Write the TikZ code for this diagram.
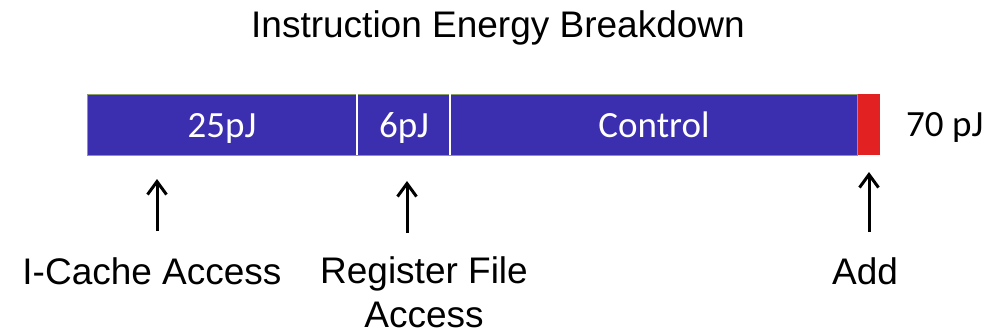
\documentclass[tikz,border=0pt]{standalone}
\usepackage{fontspec}
\setmainfont{Liberation Sans}
\newfontfamily\calib{Carlito}
\usetikzlibrary{arrows.meta}
\definecolor{barblue}{RGB}{59,47,175}
\definecolor{barred}{RGB}{226,34,34}
\definecolor{barrim}{RGB}{140,160,100}
\begin{document}
\begin{tikzpicture}[x=1pt,y=-1pt,
  seg/.style={draw=barrim,line width=1pt,fill=barblue},
  divider/.style={white,line width=2pt},
  bartext/.style={text=white,font=\calib\fontsize{37}{44}\selectfont,anchor=base,inner sep=0pt},
  lbl/.style={font=\fontsize{37}{44}\selectfont,anchor=base,inner sep=0pt,align=center},
  up/.style={-{Straight Barb[length=13pt,width=19pt,line width=3pt]},line width=3pt}]
\useasboundingbox (0,0) rectangle (989,333);
\node[lbl] (title) at (498,37) {Instruction Energy Breakdown};
\fill[barred] (857,94) rectangle (880,155);
\draw[seg] (87,94) rectangle (857,155);
\draw[divider] (357,94) -- (357,155);
\draw[divider] (450,94) -- (450,155);
\node[bartext] (ic) at (222,137) {25pJ};
\node[bartext] (rf) at (404,137) {6pJ};
\node[bartext] (ctl) at (654,137) {Control};
\node[anchor=base west,inner sep=0pt,font=\calib\fontsize{37}{44}\selectfont] (tot) at (906,136) {70 pJ};
\coordinate (a1t) at (157,179);
\coordinate (a1b) at (157,231);
\coordinate (a2t) at (407,181);
\coordinate (a2b) at (407,233);
\coordinate (a3t) at (869,172);
\coordinate (a3b) at (869,232);
\draw[up] (a1b) -- (a1t);
\draw[up] (a2b) -- (a2t);
\draw[up] (a3b) -- (a3t);
\node[lbl] (l1) at (152,284) {I-Cache Access};
\node[lbl] (l2) at (424,327) {Register File\\Access};
\node[lbl] (l3) at (865,284) {Add};
\end{tikzpicture}
\end{document}
